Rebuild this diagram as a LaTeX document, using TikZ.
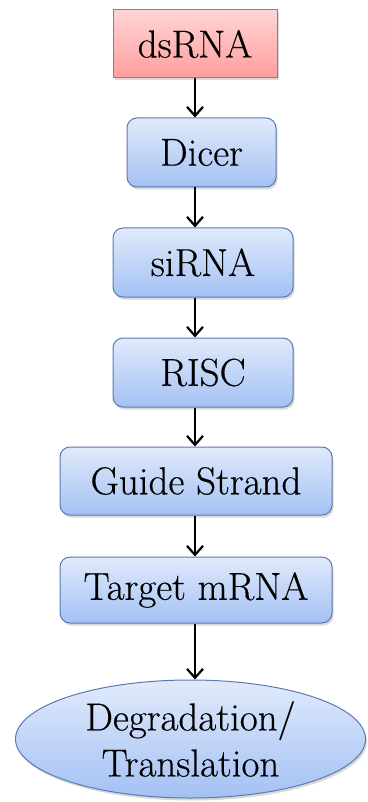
\documentclass[tikz,border=0pt]{standalone}
\usepackage{fontspec}
\setmainfont{Latin Modern Roman}[FakeBold=0.4]
\usetikzlibrary{arrows.meta,shapes.geometric,shadows}
\definecolor{redtop}{HTML}{FFD4D4}
\definecolor{redbot}{HTML}{FF9E9E}
\definecolor{redline}{HTML}{C26A6A}
\definecolor{bluetop}{HTML}{E0EAFB}
\definecolor{bluebot}{HTML}{A4C1F4}
\definecolor{blueline}{HTML}{5B7BB0}
\tikzset{
  boxbase/.style={inner sep=0pt, font=\fontsize{39}{46}\selectfont, text=black,
    line width=1pt, drop shadow={shadow xshift=1.5pt, shadow yshift=-2.5pt, opacity=0.3}},
  redbox/.style={boxbase, rectangle, draw=redline, top color=redtop, bottom color=redbot},
  bluebox/.style={boxbase, rectangle, rounded corners=10pt, draw=blueline, top color=bluetop, bottom color=bluebot},
  blueell/.style={boxbase, ellipse, draw=blueline, top color=bluetop, bottom color=bluebot, align=center},
  flow/.style={draw=black, line width=2.2pt, -{Straight Barb[length=9pt,width=16pt,line width=2.2pt]}}
}
\begin{document}
\begin{tikzpicture}[x=1pt,y=1pt]
\useasboundingbox (0,0) rectangle (367,-802);
\coordinate (ax) at (195,0);
\node[redbox, minimum width=164pt, minimum height=68pt] (ds) at (195,-44) {dsRNA};
\node[bluebox, minimum width=149pt, minimum height=69pt] (dicer) at (201.5,-152.5) {Dicer};
\node[bluebox, minimum width=180pt, minimum height=69pt] (si) at (203,-262.5) {siRNA};
\node[bluebox, minimum width=180pt, minimum height=69pt] (risc) at (203,-372.5) {RISC};
\node[bluebox, minimum width=272pt, minimum height=68pt] (guide) at (196,-481) {Guide Strand};
\node[bluebox, minimum width=272pt, minimum height=66pt] (target) at (196,-590) {Target mRNA};
\node[blueell, minimum width=350pt, minimum height=118pt, inner sep=0pt] (deg) at (190.5,-739) {Degradation/\\Translation};
\draw[flow] (ds.south -| ax) -- (dicer.north -| ax);
\draw[flow] (dicer.south -| ax) -- (si.north -| ax);
\draw[flow] (si.south -| ax) -- (risc.north -| ax);
\draw[flow] (risc.south -| ax) -- (guide.north -| ax);
\draw[flow] (guide.south -| ax) -- (target.north -| ax);
\draw[flow] (target.south -| ax) -- (deg.north -| ax);
\end{tikzpicture}
\end{document}
